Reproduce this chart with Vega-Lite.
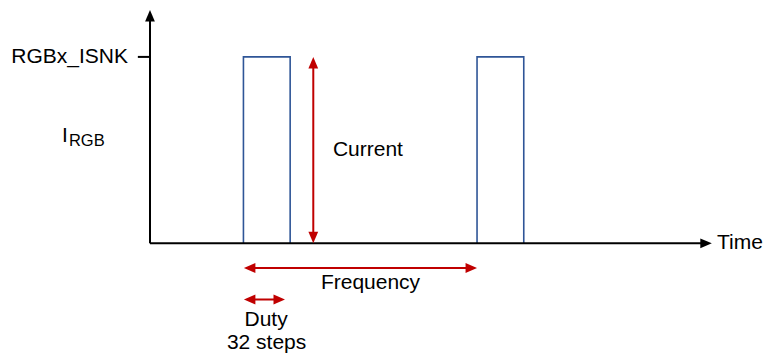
{
  "$schema": "https://vega.github.io/schema/vega-lite/v6.json",
  "width": 765,
  "height": 356,
  "padding": 0,
  "autosize": {"type": "fit", "contains": "padding"},
  "config": {"view": {"stroke": null}},
  "background": "white",
  "encoding": {
    "x": {"field": "t", "type": "quantitative", "axis": null, "scale": {"domain": [-64.21, 263.27], "nice": false, "zero": false}},
    "y": {"field": "i", "type": "quantitative", "axis": null, "scale": {"domain": [-0.6046, 1.3053], "nice": false, "zero": false}}
  },
  "layer": [
    {
      "data": {"values": [
        {"pulse": 1, "seq": 1, "t": 40, "i": 0},
        {"pulse": 1, "seq": 2, "t": 40, "i": 1},
        {"pulse": 1, "seq": 3, "t": 60, "i": 1},
        {"pulse": 1, "seq": 4, "t": 60, "i": 0},
        {"pulse": 2, "seq": 1, "t": 140, "i": 0},
        {"pulse": 2, "seq": 2, "t": 140, "i": 1},
        {"pulse": 2, "seq": 3, "t": 160, "i": 1},
        {"pulse": 2, "seq": 4, "t": 160, "i": 0}
      ]},
      "mark": {"type": "line", "color": "#2F5597", "strokeWidth": 1.6, "strokeJoin": "miter"},
      "encoding": {"detail": {"field": "pulse"}, "order": {"field": "seq", "type": "quantitative"}}
    },
    {
      "data": {"values": [
        {"name": "y-axis", "t": 0, "i": 0, "t2": 0, "i2": 1.215},
        {"name": "x-axis", "t": 0, "i": 0, "t2": 237, "i2": 0},
        {"name": "tick", "t": -5.2, "i": 1, "t2": 0, "i2": 1}
      ]},
      "mark": {"type": "rule", "color": "#000000", "strokeWidth": 2},
      "encoding": {"x2": {"field": "t2"}, "y2": {"field": "i2"}}
    },
    {
      "data": {"values": [
        {"name": "current", "t": 69.9, "i": 0.03, "t2": 69.9, "i2": 0.97},
        {"name": "frequency", "t": 42, "i": -0.1325, "t2": 138.3, "i2": -0.1325},
        {"name": "duty", "t": 42, "i": -0.3015, "t2": 55.8, "i2": -0.3015}
      ]},
      "mark": {"type": "rule", "color": "#C00000", "strokeWidth": 2},
      "encoding": {"x2": {"field": "t2"}, "y2": {"field": "i2"}}
    },
    {
      "data": {"values": [
        {"color": "black", "dir": "up", "t": 0, "i": 1.2516},
        {"color": "black", "dir": "right", "t": 240.5, "i": 0},
        {"color": "red", "dir": "up", "t": 69.9, "i": 1.0},
        {"color": "red", "dir": "down", "t": 69.9, "i": 0.0},
        {"color": "red", "dir": "left", "t": 40.2, "i": -0.1325},
        {"color": "red", "dir": "right", "t": 140, "i": -0.1325},
        {"color": "red", "dir": "left", "t": 40.2, "i": -0.3015},
        {"color": "red", "dir": "right", "t": 57.8, "i": -0.3015}
      ]},
      "mark": {"type": "point", "filled": true, "size": 132, "opacity": 1, "strokeWidth": 0},
      "encoding": {
        "shape": {"field": "dir", "type": "nominal", "legend": null, "scale": {"domain": ["up", "down", "left", "right"], "range": ["M0,0L0.85,2L-0.85,2Z", "M0,0L0.85,-2L-0.85,-2Z", "M0,0L2,0.85L2,-0.85Z", "M0,0L-2,0.85L-2,-0.85Z"]}},
        "color": {"field": "color", "type": "nominal", "legend": null, "scale": {"domain": ["black", "red"], "range": ["#000000", "#C00000"]}}
      }
    },
    {
      "data": {"values": [
        {"label": "RGBx_ISNK", "t": -9.4, "i": 1.0}
      ]},
      "mark": {"type": "text", "font": "Liberation Sans", "fontSize": 21, "align": "right", "baseline": "middle", "color": "#000000"},
      "encoding": {"text": {"field": "label"}}
    },
    {
      "data": {"values": [
        {"label": "I", "t": -37.7, "i": 0.578},
        {"label": "Current", "t": 78.3, "i": 0.5},
        {"label": "Time", "t": 242.7, "i": 0.0}
      ]},
      "mark": {"type": "text", "font": "Liberation Sans", "fontSize": 21, "align": "left", "baseline": "middle", "color": "#000000"},
      "encoding": {"text": {"field": "label"}}
    },
    {
      "data": {"values": [
        {"label": "RGB", "t": -34.7, "i": 0.549}
      ]},
      "mark": {"type": "text", "font": "Liberation Sans", "fontSize": 16.5, "align": "left", "baseline": "middle", "color": "#000000"},
      "encoding": {"text": {"field": "label"}}
    },
    {
      "data": {"values": [
        {"label": "Frequency", "t": 94.4, "i": -0.213},
        {"label": "Duty", "t": 49.7, "i": -0.414},
        {"label": "32 steps", "t": 49.9, "i": -0.535}
      ]},
      "mark": {"type": "text", "font": "Liberation Sans", "fontSize": 21, "align": "center", "baseline": "middle", "color": "#000000"},
      "encoding": {"text": {"field": "label"}}
    }
  ]
}
